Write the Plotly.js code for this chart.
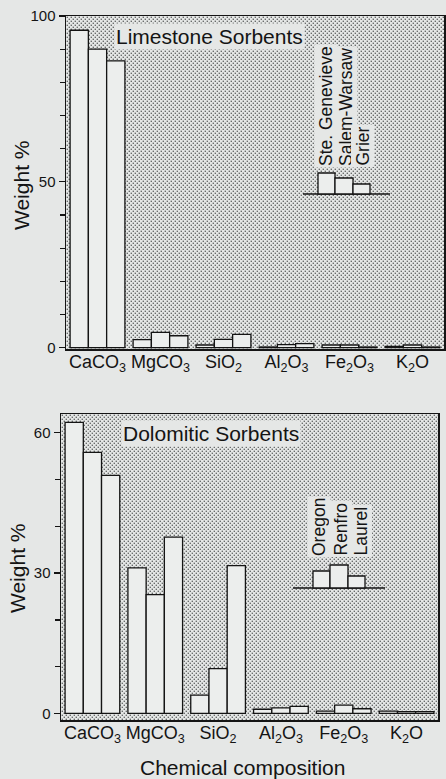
<!DOCTYPE html>
<html><head><meta charset="utf-8">
<script src="https://cdn.plot.ly/plotly-3.0.1.min.js"></script>
<style>html,body{margin:0;padding:0;background:#e5e7e6;}#chart{width:446px;height:779px;}</style>
</head><body><div id="chart"></div>
<script>
// ---- data ----
const categories = ['CaCO<sub>3</sub>','MgCO<sub>3</sub>','SiO<sub>2</sub>','Al<sub>2</sub>O<sub>3</sub>','Fe<sub>2</sub>O<sub>3</sub>','K<sub>2</sub>O'];
const limestoneNames = ['Ste. Genevieve','Salem-Warsaw','Grier'];
const steGenevieve = [95.7, 2.4, 0.8, 0.2, 0.8, 0.4];
const salemWarsaw  = [90.0, 4.6, 2.5, 0.9, 0.8, 0.8];
const grier        = [86.5, 3.6, 4.0, 1.2, 0.2, 0.2];
const dolomiteNames = ['Oregon','Renfro','Laurel'];
const oregon = [62.2, 31.1, 3.9, 0.9, 0.5, 0.5];
const renfro = [55.8, 25.4, 9.6, 1.2, 1.8, 0.4];
const laurel = [50.9, 37.7, 31.6, 1.5, 1.0, 0.4];
const limestoneTicks = [0, 50, 100];
const dolomiteTicks = [0, 30, 60];
const panelTitles = ['Limestone Sorbents', 'Dolomitic Sorbents'];
const yTitle = 'Weight %';
const xTitle = 'Chemical composition';

// ---- helpers ----
const W = 446, H = 779;
const px = x => x / W;
const py = y => 1 - y / H;
const PAPER = '#e5e7e6';
const INK = '#141414';
const BARFILL = '#eceeed';
const FONT = 'Liberation Sans, Arial, sans-serif';

function stipple(w, h) {
  const svg = "<svg xmlns='http://www.w3.org/2000/svg' width='" + w + "' height='" + h + "'>" +
    "<defs><pattern id='p' width='4' height='4' patternUnits='userSpaceOnUse'>" +
    "<rect x='0.6' y='0.6' width='1.4' height='1.4' fill='#6a6c6c'/>" +
    "<rect x='2.6' y='2.6' width='1.4' height='1.4' fill='#6a6c6c'/></pattern></defs>" +
    "<rect width='100%' height='100%' fill='" + PAPER + "'/>" +
    "<rect width='100%' height='100%' fill='url(#p)'/></svg>";
  return 'data:image/svg+xml;charset=utf-8,' + encodeURIComponent(svg);
}

// panel geometry (pixels)
const topP = {l: 66, r: 444, t: 16, b: 349};
const botP = {l: 61, r: 438, t: 414, b: 720};

const traces = [];
[steGenevieve, salemWarsaw, grier].forEach((vals, i) => {
  traces.push({type: 'bar', x: categories, y: vals, name: limestoneNames[i], xaxis: 'x', yaxis: 'y',
    marker: {color: BARFILL, line: {color: INK, width: 1.3}}, showlegend: false, hoverinfo: 'skip'});
});
[oregon, renfro, laurel].forEach((vals, i) => {
  traces.push({type: 'bar', x: categories, y: vals, name: dolomiteNames[i], xaxis: 'x2', yaxis: 'y2',
    marker: {color: BARFILL, line: {color: INK, width: 1.3}}, showlegend: false, hoverinfo: 'skip'});
});

function xAx(p, anchor) {
  return {domain: [px(p.l), px(p.r)], anchor: anchor, type: 'category', showline: true, mirror: true,
    linecolor: INK, linewidth: 1.5, ticks: '', showgrid: false, zeroline: false, tickangle: 0,
    ticklabelstandoff: -4,
    tickfont: {family: FONT, size: 18, color: INK}, fixedrange: true};
}
function yAx(p, anchor, range, tickvals) {
  return {domain: [py(p.b), py(p.t)], anchor: anchor, range: range, tickvals: tickvals,
    ticks: 'outside', ticklen: 6, tickwidth: 1.3, tickcolor: INK,
    minor: {tickmode: 'linear', tick0: 0, dtick: 10, ticks: 'outside', ticklen: 5, tickwidth: 1.3, tickcolor: INK, showgrid: false},
    showline: true, mirror: true, linecolor: INK, linewidth: 1.5, showgrid: false, zeroline: false,
    tickfont: {family: FONT, size: 15, color: INK}, fixedrange: true};
}

const annotations = [];
const shapes = [];
function ann(text, x, y, opts) {
  annotations.push(Object.assign({text: text, x: px(x), y: py(y), xref: 'paper', yref: 'paper',
    xanchor: 'center', yanchor: 'middle',
    showarrow: false, font: {family: FONT, size: 21, color: INK}}, opts || {}));
}
ann(panelTitles[0], 209, 37, {bgcolor: PAPER, borderpad: 1});
ann(panelTitles[1], 211, 433, {bgcolor: PAPER, borderpad: 1});
ann(yTitle, 22, 185, {textangle: -90});
ann(yTitle, 17, 568, {textangle: -90});
ann(xTitle, 242, 767);

// legend keys
function legendKey(names, lineX0, lineX1, lineY, bars, labelX, labelBottom) {
  shapes.push({type: 'line', xref: 'paper', yref: 'paper', x0: px(lineX0), x1: px(lineX1), y0: py(lineY), y1: py(lineY),
    line: {color: INK, width: 1.3}});
  bars.forEach((b, i) => {
    shapes.push({type: 'rect', xref: 'paper', yref: 'paper', x0: px(b[0]), x1: px(b[1]), y0: py(lineY), y1: py(b[2]),
      fillcolor: BARFILL, line: {color: INK, width: 1.3}});
    ann(names[i], labelX[i], labelBottom, {textangle: -90, yanchor: 'bottom', xanchor: 'center',
      bgcolor: PAPER, borderpad: 1, font: {family: FONT, size: 17.5, color: INK}});
  });
}
legendKey(limestoneNames, 303, 390, 194, [[318, 335, 173], [335, 353, 178], [353, 370, 184]], [326, 346, 363], 168);
legendKey(dolomiteNames, 293, 385, 588, [[313, 330, 571], [330, 348, 565], [348, 365, 576]], [319, 340, 360], 558);

const layout = {
  width: W, height: H, margin: {l: 0, r: 0, t: 0, b: 0},
  paper_bgcolor: PAPER, plot_bgcolor: 'rgba(0,0,0,0)',
  barmode: 'group', bargap: 0.13, bargroupgap: 0,
  font: {family: FONT, color: INK},
  xaxis: xAx(topP, 'y'),
  yaxis: yAx(topP, 'x', [-0.4, 100], limestoneTicks),
  xaxis2: xAx(botP, 'y2'),
  yaxis2: yAx(botP, 'x2', [-1.4, 64], dolomiteTicks),
  images: [
    {source: stipple(topP.r - topP.l, topP.b - topP.t), xref: 'paper', yref: 'paper', x: px(topP.l), y: py(topP.t),
      sizex: px(topP.r) - px(topP.l), sizey: py(topP.t) - py(topP.b), xanchor: 'left', yanchor: 'top', sizing: 'stretch', layer: 'below'},
    {source: stipple(botP.r - botP.l, botP.b - botP.t), xref: 'paper', yref: 'paper', x: px(botP.l), y: py(botP.t),
      sizex: px(botP.r) - px(botP.l), sizey: py(botP.t) - py(botP.b), xanchor: 'left', yanchor: 'top', sizing: 'stretch', layer: 'below'}
  ],
  annotations: annotations,
  shapes: shapes
};

Plotly.newPlot('chart', traces, layout, {displayModeBar: false, staticPlot: true});
</script>
</body></html>
